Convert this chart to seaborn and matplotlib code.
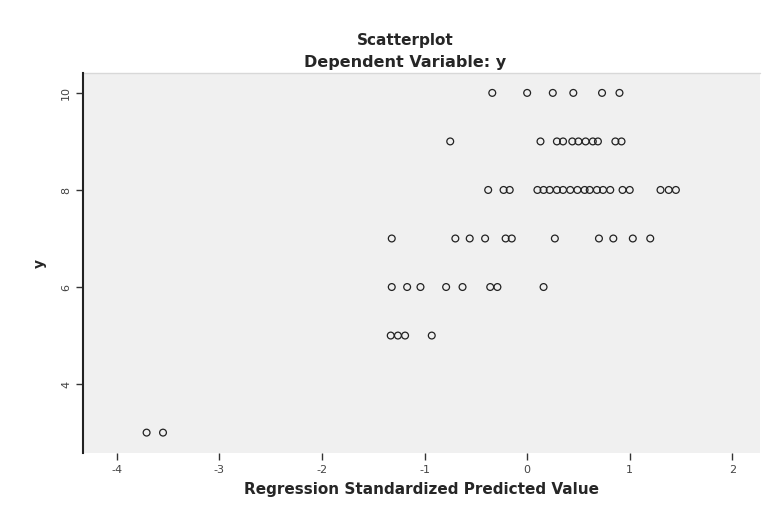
import matplotlib
matplotlib.use("Agg")
import matplotlib.pyplot as plt
import seaborn as sns
import pandas as pd

# Observed y by row, with regression standardized predicted values
x_y10 = [-0.34, 0.00, 0.25, 0.45, 0.73, 0.90]
x_y9 = [-0.75, 0.13, 0.29, 0.35, 0.44, 0.50, 0.57, 0.64, 0.69, 0.86, 0.92]
x_y8 = [-0.38, -0.23, -0.17, 0.10, 0.16, 0.22, 0.29, 0.35, 0.42, 0.49, 0.56,
        0.61, 0.68, 0.74, 0.81, 0.93, 1.00, 1.30, 1.38, 1.45]
x_y7 = [-1.32, -0.70, -0.56, -0.41, -0.21, -0.15, 0.27, 0.70, 0.84, 1.03, 1.20]
x_y6 = [-1.32, -1.17, -1.04, -0.79, -0.63, -0.36, -0.29, 0.16]
x_y5 = [-1.33, -1.26, -1.19, -0.93]
x_y3 = [-3.71, -3.55]

rows = {10: x_y10, 9: x_y9, 8: x_y8, 7: x_y7, 6: x_y6, 5: x_y5, 3: x_y3}
pred, obs = [], []
for yv, xs in rows.items():
    pred += xs
    obs += [yv] * len(xs)
df = pd.DataFrame({"pred": pred, "y": obs})

x_ticks = [-4, -3, -2, -1, 0, 1, 2]
y_ticks = [10, 8, 6, 4]

sns.set_style("white")
plt.rcParams["font.family"] = ["DejaVu Sans"]

fig = plt.figure(figsize=(7.63, 5.07), dpi=100)
ax = fig.add_axes([83 / 763, 1 - 453 / 507, (760 - 83) / 763, (453 - 73) / 507])
ax.set_facecolor("#f0f0f0")

sns.scatterplot(data=df, x="pred", y="y", ax=ax, marker="o", s=24,
                facecolor="none", edgecolor="#222222", linewidth=0.9)

ax.set_xlim(-4.33, 2.27)
ax.set_ylim(2.58, 10.41)
ax.set_xticks(x_ticks)
ax.set_xticklabels([str(t) for t in x_ticks])
ax.set_yticks(y_ticks)
ax.set_yticklabels([str(t) for t in y_ticks], rotation=90, va="center")
ax.tick_params(axis="both", labelsize=8, length=5, width=1, color="#333333",
               labelcolor="#444444", direction="out", bottom=True, left=True)

for s in ["top", "right", "bottom"]:
    ax.spines[s].set_visible(False)
ax.spines["left"].set_color("#222222")
ax.spines["left"].set_linewidth(1.5)
ax.plot([0, 1], [1, 1], transform=ax.transAxes, color="#d8d8d8", lw=1, clip_on=False)

ax.set_xlabel("Regression Standardized Predicted Value", fontsize=11,
              fontweight="bold", labelpad=5)
ax.set_ylabel("y", fontsize=10, fontweight="bold", labelpad=10)

fig.text(0.531, 1 - 40 / 507, "Scatterplot", ha="center", va="center",
         fontsize=11, fontweight="bold")
fig.text(0.531, 1 - 63 / 507, "Dependent Variable: y", ha="center", va="center",
         fontsize=11.5, fontweight="bold")

fig.savefig("out.png", dpi=100)
